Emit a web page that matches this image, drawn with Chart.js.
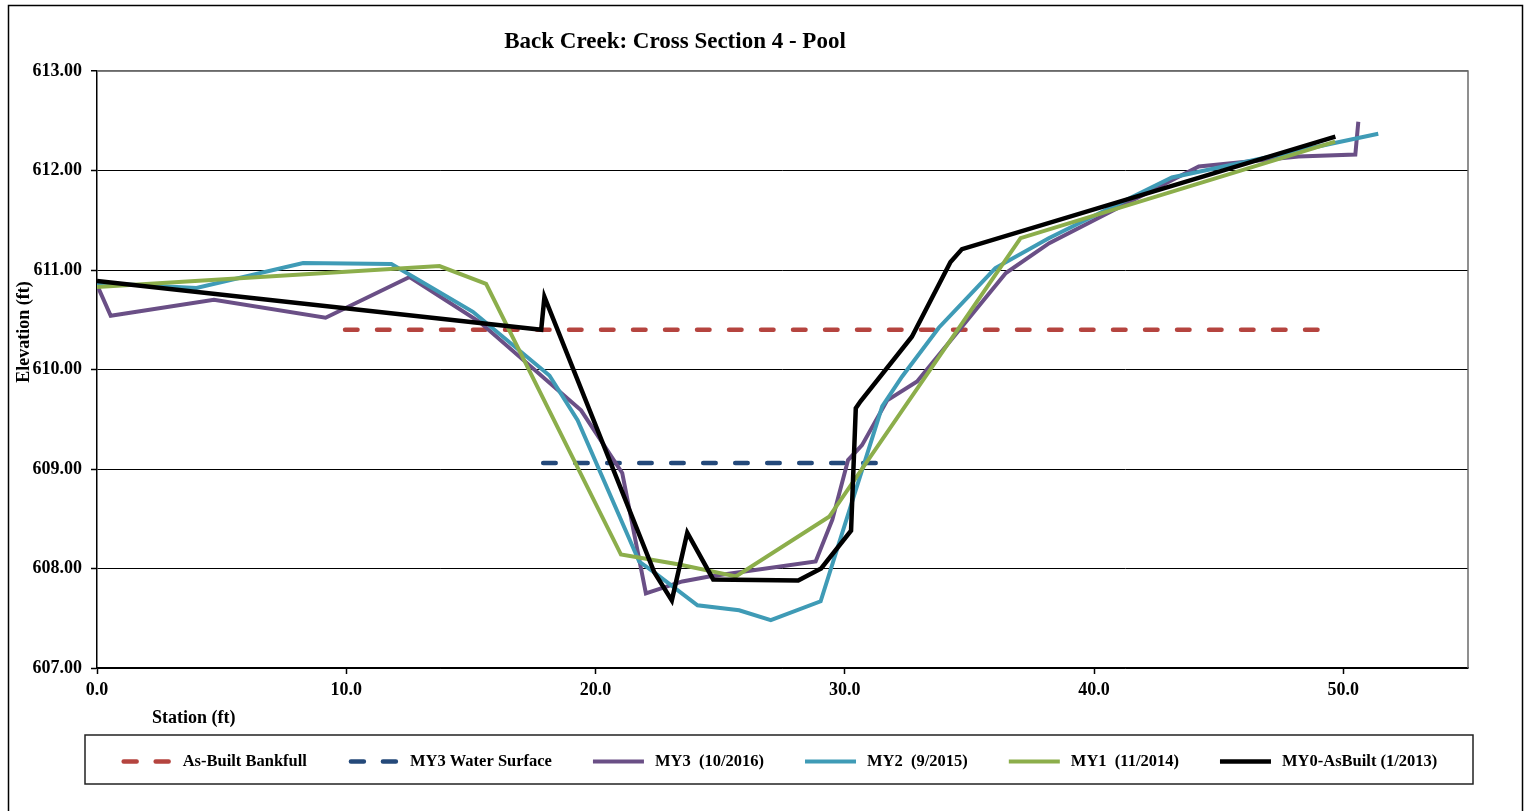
<!DOCTYPE html>
<html>
<head>
<meta charset="utf-8">
<title>Back Creek: Cross Section 4 - Pool</title>
<script src="https://cdn.jsdelivr.net/npm/chart.js@4/dist/chart.umd.min.js"></script>
<style>
  html, body { margin: 0; padding: 0; background: #fff; }
  canvas { display: block; }
</style>
</head>
<body>
<canvas id="xs" width="1526" height="811"></canvas>
<script>
// Cross section survey data: station (ft) and elevation (ft)
const bankfullStation = [9.95, 49.6];
const bankfullElev    = [610.40, 610.40];

const waterStation = [17.9, 31.6];
const waterElev    = [609.06, 609.06];

const my3Station = [0.0, 0.55, 4.69, 9.17, 12.54, 15.34, 19.42, 21.07, 22.02, 23.48, 24.56, 28.83, 29.50, 30.13, 30.69, 31.70, 32.90, 36.46, 38.20, 43.10, 44.20, 48.20, 50.48, 50.60];
const my3Elev    = [610.85, 610.54, 610.70, 610.52, 610.93, 610.48, 609.59, 608.96, 607.75, 607.87, 607.92, 608.07, 608.49, 609.09, 609.24, 609.69, 609.88, 610.97, 611.27, 611.90, 612.04, 612.14, 612.16, 612.49];

const my2Station = [0.0, 3.99, 8.27, 11.81, 15.08, 18.15, 19.28, 21.75, 22.30, 24.09, 25.76, 27.03, 29.03, 31.50, 32.30, 33.77, 36.04, 38.18, 43.12, 51.40];
const my2Elev    = [610.87, 610.82, 611.07, 611.06, 610.58, 609.94, 609.49, 608.07, 607.97, 607.63, 607.58, 607.48, 607.67, 609.63, 609.93, 610.42, 611.02, 611.32, 611.93, 612.37];

const my1Station = [0.0, 13.74, 15.61, 21.02, 23.36, 25.63, 29.37, 37.05, 49.67];
const my1Elev    = [610.83, 611.04, 610.86, 608.14, 608.04, 607.92, 608.52, 611.32, 612.29];

const my0Station = [0.0, 17.82, 17.95, 22.36, 23.06, 23.68, 24.72, 28.13, 29.05, 30.25, 30.44, 30.63, 32.69, 34.24, 34.70, 49.68];
const my0Elev    = [610.89, 610.40, 610.73, 607.96, 607.68, 608.36, 607.89, 607.88, 608.00, 608.38, 609.61, 609.68, 610.33, 611.08, 611.21, 612.34];

const seriesLabels = ['As-Built Bankfull', 'MY3 Water Surface', 'MY3  (10/2016)', 'MY2  (9/2015)', 'MY1  (11/2014)', 'MY0-AsBuilt (1/2013)'];

const stationTicks = [0, 10, 20, 30, 40, 50];
const elevationTicks = [607, 608, 609, 610, 611, 612, 613];

const chartTitle = 'Back Creek: Cross Section 4 - Pool';
const xTitle = 'Station (ft)';
const yTitle = 'Elevation (ft)';

const FONT = "'Liberation Serif', 'Times New Roman', serif";

function points(xs, ys) {
  return xs.map((x, i) => ({ x: x, y: ys[i] }));
}

function series(label, xs, ys, color, width, dash, order) {
  return {
    label: label,
    data: points(xs, ys),
    borderColor: color,
    backgroundColor: color,
    borderWidth: width,
    borderDash: dash || [],
    borderCapStyle: dash ? 'round' : 'butt',
    borderJoinStyle: 'miter',
    showLine: true,
    pointRadius: 0,
    pointHoverRadius: 0,
    tension: 0,
    fill: false,
    order: order
  };
}

const datasets = [
  series(seriesLabels[0], bankfullStation, bankfullElev, '#B5443F', 4.5, [12.5, 19.5], 6),
  series(seriesLabels[1], waterStation, waterElev, '#24497A', 4.5, [12.5, 19.5], 5),
  series(seriesLabels[2], my3Station, my3Elev, '#6A4F86', 4, null, 4),
  series(seriesLabels[3], my2Station, my2Elev, '#3F9BB6', 4, null, 3),
  series(seriesLabels[4], my1Station, my1Elev, '#8CAE4B', 4, null, 2),
  series(seriesLabels[5], my0Station, my0Elev, '#000000', 4.5, null, 1)
];

// Frame, titles and the boxed legend row
const decorations = {
  id: 'decorations',
  beforeDraw(chart) {
    const ctx = chart.ctx;
    ctx.save();
    ctx.fillStyle = '#fff';
    ctx.fillRect(0, 0, chart.width, chart.height);
    ctx.restore();
  },
  beforeDatasetsDraw(chart) {
    const ctx = chart.ctx;
    const a = chart.chartArea;
    ctx.save();
    ctx.strokeStyle = '#6b6b6b';
    ctx.lineWidth = 1.5;
    ctx.beginPath();
    ctx.moveTo(a.left, a.top);
    ctx.lineTo(a.right, a.top);
    ctx.lineTo(a.right, a.bottom);
    ctx.stroke();
    ctx.restore();
  },
  afterDraw(chart) {
    const ctx = chart.ctx;
    ctx.save();

    // outer frame
    ctx.strokeStyle = '#000';
    ctx.lineWidth = 1.5;
    ctx.strokeRect(8.5, 5.5, 1514, 830);

    // chart title
    ctx.fillStyle = '#000';
    ctx.font = 'bold 23px ' + FONT;
    ctx.textAlign = 'center';
    ctx.textBaseline = 'middle';
    ctx.fillText(chartTitle, 675, 42);

    // axis titles
    ctx.font = 'bold 18px ' + FONT;
    ctx.textAlign = 'left';
    ctx.fillText(xTitle, 152, 718);
    ctx.save();
    ctx.translate(24, 332);
    ctx.rotate(-Math.PI / 2);
    ctx.textAlign = 'center';
    ctx.fillText(yTitle, 0, 0);
    ctx.restore();

    // legend box
    const box = { left: 85, top: 735, right: 1473, bottom: 784 };
    ctx.strokeStyle = '#222';
    ctx.lineWidth = 1.5;
    ctx.strokeRect(box.left, box.top, box.right - box.left, box.bottom - box.top);

    ctx.font = 'bold 16.5px ' + FONT;
    const sample = 51, sampleGap = 11, itemGap = 41;
    const items = chart.data.datasets.map(ds => ({ ds: ds, w: ctx.measureText(ds.label).width }));
    const total = items.reduce((s, it) => s + sample + sampleGap + it.w, 0) + itemGap * (items.length - 1);
    let x = (box.left + box.right) / 2 - total / 2;
    const cy = (box.top + box.bottom) / 2 + 2;
    items.forEach(it => {
      const ds = it.ds;
      ctx.save();
      ctx.strokeStyle = ds.borderColor;
      ctx.lineWidth = ds.borderWidth;
      ctx.lineCap = ds.borderDash.length ? 'round' : 'butt';
      ctx.setLineDash(ds.borderDash.length ? [13, 19] : []);
      ctx.beginPath();
      ctx.moveTo(x + (ds.borderDash.length ? 3 : 0), cy);
      ctx.lineTo(x + sample, cy);
      ctx.stroke();
      ctx.restore();
      ctx.fillStyle = '#000';
      ctx.textAlign = 'left';
      ctx.textBaseline = 'middle';
      ctx.fillText(ds.label, x + sample + sampleGap, cy);
      x += sample + sampleGap + it.w + itemGap;
    });

    ctx.restore();
  }
};

new Chart(document.getElementById('xs'), {
  type: 'scatter',
  data: { datasets: datasets },
  plugins: [decorations],
  options: {
    responsive: false,
    animation: false,
    devicePixelRatio: 1,
    layout: { padding: { top: 71, right: 58, left: 0, bottom: 0 } },
    plugins: {
      legend: { display: false },
      title: { display: false },
      tooltip: { enabled: false }
    },
    scales: {
      x: {
        type: 'linear',
        min: 0,
        max: 55,
        afterFit(scale) { scale.height = 143; },
        afterBuildTicks(scale) {
          scale.ticks = stationTicks.map(v => ({ value: v }));
        },
        ticks: {
          color: '#000',
          font: { family: FONT, size: 18, weight: 'bold' },
          padding: 6,
          maxRotation: 0,
          callback: v => Number(v).toFixed(1)
        },
        grid: {
          drawOnChartArea: false,
          drawTicks: true,
          tickLength: 6,
          tickColor: '#000',
          tickWidth: 1.5
        },
        border: { display: true, color: '#000', width: 1.5 }
      },
      y: {
        type: 'linear',
        min: 607,
        max: 613,
        afterFit(scale) { scale.width = 97; },
        afterBuildTicks(scale) {
          scale.ticks = elevationTicks.map(v => ({ value: v }));
        },
        ticks: {
          color: '#000',
          font: { family: FONT, size: 18, weight: 'bold' },
          padding: 9,
          callback: v => Number(v).toFixed(2)
        },
        grid: {
          color: c => (c.tick && c.tick.value === 613) ? '#6b6b6b' : '#000',
          lineWidth: c => (c.tick && c.tick.value === 613) ? 1.5 : 1,
          drawTicks: true,
          tickLength: 6,
          tickColor: '#000',
          tickWidth: 1.5
        },
        border: { display: true, color: '#000', width: 1.5 }
      }
    }
  }
});
</script>
</body>
</html>
